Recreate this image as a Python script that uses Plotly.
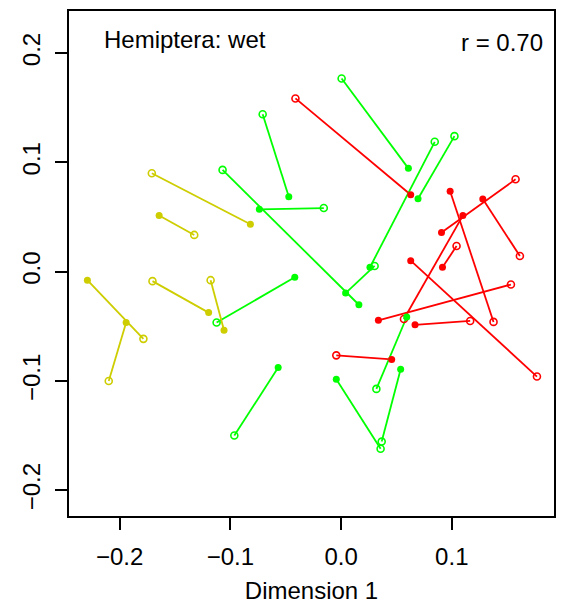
import plotly.graph_objects as go

# Procrustes pairs: filled (target) point and open (rotated) point per site
red_fx = [0.0629, 0.0985, 0.0907, 0.128, 0.110, 0.0916, 0.0629, 0.0337, 0.0668, 0.0457]
red_fy = [0.0704, 0.0736, 0.0358, 0.0664, 0.0513, 0.0040, 0.0100, -0.0445, -0.0487, -0.0803]
red_ox = [-0.0412, 0.1377, 0.1576, 0.1615, 0.0568, 0.1043, 0.1769, 0.1534, 0.1166, -0.0043]
red_oy = [0.1585, -0.0460, 0.0845, 0.0143, -0.0433, 0.0234, -0.0960, -0.0118, -0.0451, -0.0766]

green_fx = [-0.0472, -0.0738, 0.0161, 0.0041, 0.0608, 0.0695, 0.0261, 0.0593, 0.0538, -0.0043, -0.0418, -0.0568]
green_fy = [0.0685, 0.0570, -0.0303, -0.0196, 0.0945, 0.0667, 0.0040, -0.0415, -0.0894, -0.0985, -0.0051, -0.0878]
green_ox = [-0.0708, -0.0156, -0.1070, 0.0303, 0.0005, 0.1024, 0.0846, 0.0319, 0.0367, 0.0357, -0.1124, -0.0964]
green_oy = [0.1440, 0.0582, 0.0931, 0.0052, 0.1767, 0.1240, 0.1188, -0.1073, -0.1555, -0.1621, -0.0466, -0.1500]

yellow_fx = [-0.0819, -0.1643, -0.2291, -0.1941, -0.1196, -0.1057]
yellow_fy = [0.0434, 0.0513, -0.0078, -0.0466, -0.0375, -0.0536]
yellow_ox = [-0.1709, -0.1326, -0.1785, -0.2098, -0.1703, -0.1178]
yellow_oy = [0.0900, 0.0336, -0.0615, -0.1000, -0.0087, -0.0078]

x_ticks = [-0.2, -0.1, 0.0, 0.1]
y_ticks = [-0.2, -0.1, 0.0, 0.1, 0.2]
x_title = "Dimension 1"
label_left = "Hemiptera: wet"
label_right = "r = 0.70"

groups = [
    ("#FF0000", red_fx, red_fy, red_ox, red_oy),
    ("#00FF00", green_fx, green_fy, green_ox, green_oy),
    ("#CDCD00", yellow_fx, yellow_fy, yellow_ox, yellow_oy),
]

fig = go.Figure()
for col, fx, fy, ox, oy in groups:
    lx, ly = [], []
    for a, b, c, d in zip(fx, fy, ox, oy):
        lx += [a, c, None]
        ly += [b, d, None]
    fig.add_trace(go.Scatter(x=lx, y=ly, mode="lines",
                             line=dict(color=col, width=1.8), hoverinfo="skip"))
for col, fx, fy, ox, oy in groups:
    fig.add_trace(go.Scatter(x=fx, y=fy, mode="markers",
                             marker=dict(color=col, size=7, symbol="circle",
                                         line=dict(width=0))))
    fig.add_trace(go.Scatter(x=ox, y=oy, mode="markers",
                             marker=dict(color=col, size=7, symbol="circle-open",
                                         line=dict(color=col, width=1.6))))

font = dict(family="Liberation Sans, Arial, Helvetica, sans-serif", size=24, color="black")

fig.update_layout(
    width=565, height=609,
    margin=dict(l=69, r=10, t=9, b=91),
    paper_bgcolor="white", plot_bgcolor="white",
    showlegend=False,
    font=font,
    xaxis=dict(range=[-0.2457, 0.1923], tickvals=x_ticks, tickformat=".1f",
               showgrid=False, zeroline=False, showline=True, mirror=True,
               linecolor="black", linewidth=1.5, ticks="outside", ticklen=12,
               tickwidth=1.5, tickcolor="black", ticklabelstandoff=6,
               title=dict(text=x_title, standoff=14, font=font)),
    yaxis=dict(range=[-0.2236, 0.2385], tickvals=y_ticks, tickformat=".1f",
               showgrid=False, zeroline=False, showline=True, mirror=True,
               linecolor="black", linewidth=1.5, ticks="outside", ticklen=12,
               tickwidth=1.5, tickcolor="black", tickangle=-90, ticklabelstandoff=6),
    annotations=[
        dict(text=label_left, xref="paper", yref="paper", x=0.0685, y=0.944,
             xanchor="left", yanchor="middle", showarrow=False, font=font),
        dict(text=label_right, xref="paper", yref="paper", x=0.9815, y=0.937,
             xanchor="right", yanchor="middle", showarrow=False, font=font),
    ],
)

fig.write_html("out.html")
